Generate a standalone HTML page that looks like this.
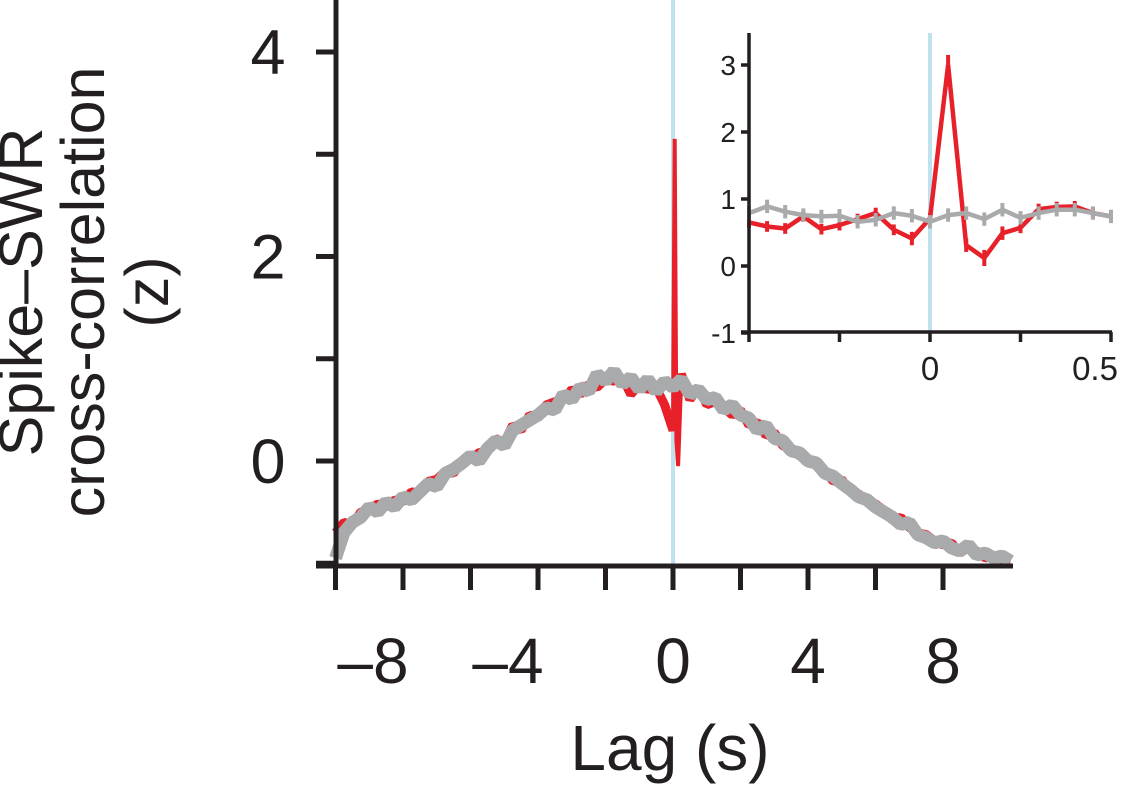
<!DOCTYPE html>
<html><head><meta charset="utf-8"><style>
html,body{margin:0;padding:0;background:#fff;}
svg{display:block;font-family:"Liberation Sans",Arial,sans-serif;}
</style></head><body>
<svg id="chart" width="1131" height="797" viewBox="0 0 1131 797">
<g id="main"></g>
<g id="inset"></g>
<text x="42" y="292" font-size="61" text-anchor="middle" fill="#231f20" transform="rotate(-90 42 292)">Spike–SWR</text>
<text x="104" y="292" font-size="61" text-anchor="middle" fill="#231f20" transform="rotate(-90 104 292)">cross-correlation</text>
<text x="168" y="292" font-size="61" text-anchor="middle" fill="#231f20" transform="rotate(-90 168 292)">(z)</text>
<text x="670" y="770" font-size="64" text-anchor="middle" fill="#231f20">Lag (s)</text>
</svg>
<script>
// ---- main chart data ----
const mainXTicks = [-10,-8,-6,-4,-2,0,2,4,6,8];
const mainXLabels = ["–8","–4","0","4","8"];
const mainXLabelVals = [-8,-4,0,4,8];
const mainYTicks = [-1,0,1,2,3,4];
const mainYLabels = ["0","2","4"];
const mainYLabelVals = [0,2,4];
const grayVals = [-0.95,-0.7,-0.6,-0.55,-0.45,-0.5,-0.4,-0.45,-0.35,
 -0.38,-0.3,-0.22,-0.25,-0.12,-0.08,-0.02,0.05,
 0.0,0.12,0.2,0.15,0.3,0.35,0.4,0.45,
 0.52,0.5,0.65,0.6,0.72,0.68,0.85,0.78,
 0.88,0.75,0.82,0.7,0.8,0.68,0.78,0.72,
 0.8,0.65,0.7,0.6,0.62,0.5,0.55,0.45,
 0.42,0.3,0.35,0.22,0.2,0.1,0.08,0.0,
 -0.02,-0.12,-0.15,-0.22,-0.28,-0.35,-0.38,-0.45,
 -0.5,-0.55,-0.62,-0.6,-0.72,-0.75,-0.8,-0.78,
 -0.85,-0.88,-0.82,-0.92,-0.9,-0.95,-0.93,-0.98];
const redVals = [-0.7,-0.6,-0.62,-0.5,-0.48,-0.42,-0.45,-0.38,-0.4,
 -0.3,-0.32,-0.2,-0.18,-0.1,-0.12,0.0,0.02,
 0.08,0.1,0.22,0.18,0.35,0.3,0.45,0.42,
 0.55,0.58,0.6,0.7,0.65,0.75,0.72,0.8,
 0.78,0.82,0.65,0.75,0.7,0.72,0.55,0.3,
 0.85,0.6,0.72,0.55,0.58,0.52,0.45,0.5,
 0.35,0.38,0.25,0.28,0.15,0.12,0.05,0.02,
 -0.05,-0.1,-0.2,-0.18,-0.3,-0.32,-0.4,-0.42,
 -0.48,-0.58,-0.55,-0.65,-0.7,-0.72,-0.78,-0.82,
 -0.8,-0.9,-0.85,-0.88,-0.95,-0.92,-0.97,-0.98];
const spikeLags = [0.05,0.1,0.15];
const spikeVals = [3.15,0.2,-0.05];

// ---- inset data ----
const insetLags = [-0.5,-0.45,-0.4,-0.35,-0.3,-0.25,-0.2,-0.15,-0.1,-0.05,0,0.05,0.1,0.15,0.2,0.25,0.3,0.35,0.4,0.45,0.5];
const insetRed = [0.65,0.59,0.56,0.74,0.55,0.61,0.70,0.79,0.54,0.41,0.71,3.0,0.31,0.12,0.49,0.57,0.85,0.88,0.89,0.79,0.74];
const insetRedErr = [0.08,0.08,0.08,0.08,0.08,0.08,0.08,0.08,0.08,0.1,0.08,0.15,0.1,0.12,0.1,0.08,0.08,0.08,0.08,0.08,0.08];
const insetGray = [0.79,0.89,0.81,0.76,0.74,0.75,0.66,0.69,0.79,0.75,0.66,0.76,0.79,0.70,0.84,0.72,0.79,0.84,0.84,0.79,0.74];
const insetGrayErr = [0.1,0.1,0.1,0.1,0.1,0.1,0.1,0.1,0.1,0.1,0.1,0.1,0.1,0.1,0.1,0.1,0.1,0.1,0.1,0.1,0.1];
const insetXTicks = [-0.5,-0.25,0,0.25,0.5];
const insetXLabels = ["0","0.5"];
const insetXLabelVals = [0,0.5];
const insetYTicks = [3,2,1,0,-1];
const insetYLabels = ["3","2","1","0","-1"];

const NS="http://www.w3.org/2000/svg";
function mk(parent,tag,attrs){const e=document.createElementNS(NS,tag);for(const k in attrs)e.setAttribute(k,attrs[k]);parent.appendChild(e);return e;}

const mx = v => 673 + v*33.75;
const my = v => 461 - v*102.25;
const main = document.getElementById('main');

let el = mk(main,'line',{x1:mx(0),x2:mx(0),y1:0,y2:566,stroke:'#bfe3ee','stroke-width':4});



const gridLags = grayVals.map((_,i)=>-10+i*0.25);
// thick red band (grid points)
el = mk(main,'polyline',{points:gridLags.map((l,i)=>mx(l).toFixed(1)+','+my(redVals[i]).toFixed(1)).join(' '),fill:'none',stroke:'#e8202a','stroke-width':9,'stroke-linejoin':'bevel'});


// thin red around zero including spike
let redPts=[];
gridLags.forEach((l,i)=>{ if(Math.abs(l)<=0.5) redPts.push([l,redVals[i]]); });
spikeLags.forEach((l,i)=>redPts.push([l,spikeVals[i]]));
redPts.sort((a,b)=>a[0]-b[0]);
el = mk(main,'polyline',{points:redPts.map(p=>mx(p[0]).toFixed(1)+','+my(p[1]).toFixed(1)).join(' '),fill:'none',stroke:'#e8202a','stroke-width':4,'stroke-linejoin':'miter'});


el = mk(main,'polyline',{points:gridLags.map((l,i)=>mx(l).toFixed(1)+','+my(grayVals[i]).toFixed(1)).join(' '),fill:'none',stroke:'#a9aaac','stroke-width':13,'stroke-linejoin':'bevel'});



el = mk(main,'line',{x1:336,x2:336,y1:0,y2:568,stroke:'#231f20','stroke-width':5});


el = mk(main,'line',{x1:316,x2:1013,y1:566,y2:566,stroke:'#231f20','stroke-width':5});


mainYTicks.forEach(v=>{
  const t=mk(main,'line',{x1:316,x2:336,y1:my(v),y2:my(v),stroke:'#231f20','stroke-width':5});
  
  
});
mainYLabelVals.forEach((v,i)=>{
  const t=mk(main,'text',{x:268,y:my(v)+22,'font-size':63,'text-anchor':'middle',fill:'#231f20'});
  t.textContent=mainYLabels[i];
  
  
});
mainXTicks.forEach(v=>{
  const t=mk(main,'line',{x1:mx(v),x2:mx(v),y1:566,y2:590,stroke:'#231f20','stroke-width':5});
  
  
});
mainXLabelVals.forEach((v,i)=>{
  const t=mk(main,'text',{x:mx(v)-(v<0?30:0),y:683,'font-size':64,'text-anchor':'middle',fill:'#231f20'});
  t.textContent=mainXLabels[i];
  
  
});

// inset
const ix = v => 930 + v*362;
const iy = v => 266 - v*67;
const inset = document.getElementById('inset');
el = mk(inset,'line',{x1:ix(0),x2:ix(0),y1:33,y2:332,stroke:'#bfe3ee','stroke-width':4});


function series(vals,errs,color,name){
  const g=mk(inset,'g',{});
  
  
  mk(g,'polyline',{points:insetLags.map((l,i)=>ix(l).toFixed(1)+','+iy(vals[i]).toFixed(1)).join(' '),fill:'none',stroke:color,'stroke-width':4.5});
  insetLags.forEach((l,i)=>{
    const b=mk(g,'line',{x1:ix(l),x2:ix(l),y1:iy(vals[i]+errs[i]),y2:iy(vals[i]-errs[i]),stroke:color,'stroke-width':4});
    
    
  });
}
series(insetRed,insetRedErr,'#e8202a','inset-red-series');
series(insetGray,insetGrayErr,'#a9aaac','inset-gray-series');
el = mk(inset,'line',{x1:749,x2:749,y1:33,y2:334,stroke:'#231f20','stroke-width':3.5});


el = mk(inset,'line',{x1:741,x2:1112,y1:332,y2:332,stroke:'#231f20','stroke-width':3.5});


insetYTicks.forEach((v,i)=>{
  const t=mk(inset,'line',{x1:741,x2:749,y1:iy(v),y2:iy(v),stroke:'#231f20','stroke-width':3.5});
  
  
  const l=mk(inset,'text',{x:736,y:iy(v)+10,'font-size':28,'text-anchor':'end',fill:'#231f20'});
  l.textContent=insetYLabels[i];
  
  
});
insetXTicks.forEach(v=>{
  const t=mk(inset,'line',{x1:ix(v),x2:ix(v),y1:332,y2:342,stroke:'#231f20','stroke-width':3.5});
  
  
});
insetXLabelVals.forEach((v,i)=>{
  const l=mk(inset,'text',{x:ix(v)-(v>0?16:0),y:380,'font-size':33,'text-anchor':'middle',fill:'#231f20'});
  l.textContent=insetXLabels[i];
  
  
});
</script>
</body></html>
